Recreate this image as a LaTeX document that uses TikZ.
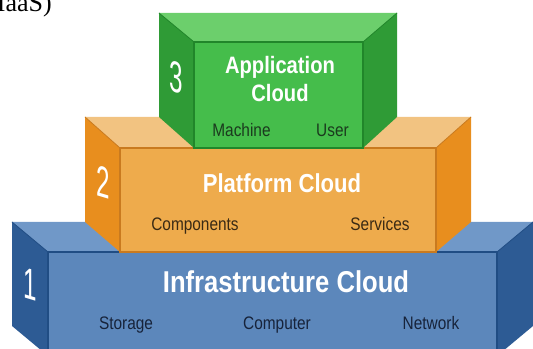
\documentclass[tikz,border=0pt]{standalone}
\usepackage{fontspec}
\setmainfont{Liberation Serif}
\newfontfamily\condfont[FakeStretch=0.85]{Liberation Sans}
\newfontfamily\digfont[FakeStretch=0.55]{Liberation Sans}

\definecolor{gtop}{HTML}{6CCF6C}
\definecolor{gfront}{HTML}{45BD4B}
\definecolor{gside}{HTML}{2F9B36}
\definecolor{gedge}{HTML}{21862A}
\definecolor{otop}{HTML}{F2C381}
\definecolor{ofront}{HTML}{EEAB4C}
\definecolor{oside}{HTML}{E88E1E}
\definecolor{oedge}{HTML}{C97A1F}
\definecolor{btop}{HTML}{7098C8}
\definecolor{bfront}{HTML}{5C87BB}
\definecolor{bside}{HTML}{2D5B94}
\definecolor{bedge}{HTML}{204D84}
\definecolor{gtext}{HTML}{1B3A1E}
\definecolor{otext}{HTML}{3A2A14}
\definecolor{btext}{HTML}{17233A}

% #1 outer left, #2 inner left, #3 inner right, #4 outer right,
% #5 outer top, #6 inner top, #7 inner bottom, #8 outer bottom, #9 colour prefix
\newcommand{\cloudbox}[9]{%
  \fill[#9top] (#1,#5) -- (#4,#5) -- (#3,#6) -- (#2,#6) -- cycle;
  \fill[#9side] (#1,#5) -- (#2,#6) -- (#2,#7) -- (#1,#8) -- cycle;
  \fill[#9side] (#4,#5) -- (#3,#6) -- (#3,#7) -- (#4,#8) -- cycle;
  \fill[#9front] (#2,#6) rectangle (#3,#7);
  \draw[#9edge, line width=0.6pt] (#1,#5) -- (#2,#6) (#4,#5) -- (#3,#6);
  \draw[#9edge, line width=1.1pt] (#2,#7) -- (#2,#6) -- (#3,#6) -- (#3,#7) -- cycle;
}

\tikzset{
  title/.style={text=white, font=\condfont\bfseries\fontsize{#1}{#1}\selectfont, inner sep=0pt, anchor=base},
  sub/.style={font=\condfont\fontsize{13.6}{14}\selectfont, inner sep=0pt, anchor=base},
  digit/.style={text=white, font=\digfont\fontsize{33}{33}\selectfont, inner sep=0pt, yslant=-0.3},
}

\begin{document}
\begin{tikzpicture}[x=0.75pt, y=-0.75pt]
\useasboundingbox (0,0) rectangle (533,349);

\node[anchor=base east, inner sep=0pt, font=\fontsize{19.5}{20}\selectfont] (cap) at (52,12) {(IaaS)};

% Infrastructure (blue)
\cloudbox{12}{48}{497}{533}{222}{252}{356}{326}{b}
% Platform (orange)
\cloudbox{85}{120}{436}{471}{117}{148}{252}{222}{o}
% Application (green)
\cloudbox{159}{194}{363}{397}{13}{42}{148}{117}{g}

% digits
\node[digit] (d3) at (176,77) {3};
\node[digit] (d2) at (103,182) {2};
\node[digit] (d1) at (30,284) {1};

% titles
\node[title=17.8] (app1) at (280,74) {Application};
\node[title=17.8] (app2) at (280,102) {Cloud};
\node[title=19.5] (plat) at (282,193) {Platform Cloud};
\node[title=22.6] (infra) at (286,293) {Infrastructure Cloud};

% sub labels
\node[sub, text=gtext] (mach) at (241.5,137) {Machine};
\node[sub, text=gtext] (user) at (332.5,137) {User};
\node[sub, text=otext] (comp) at (195,231) {Components};
\node[sub, text=otext] (serv) at (380,231) {Services};
\node[sub, text=btext] (stor) at (126,330) {Storage};
\node[sub, text=btext] (cpu) at (277,330) {Computer};
\node[sub, text=btext] (net) at (431,330) {Network};
\end{tikzpicture}
\end{document}
